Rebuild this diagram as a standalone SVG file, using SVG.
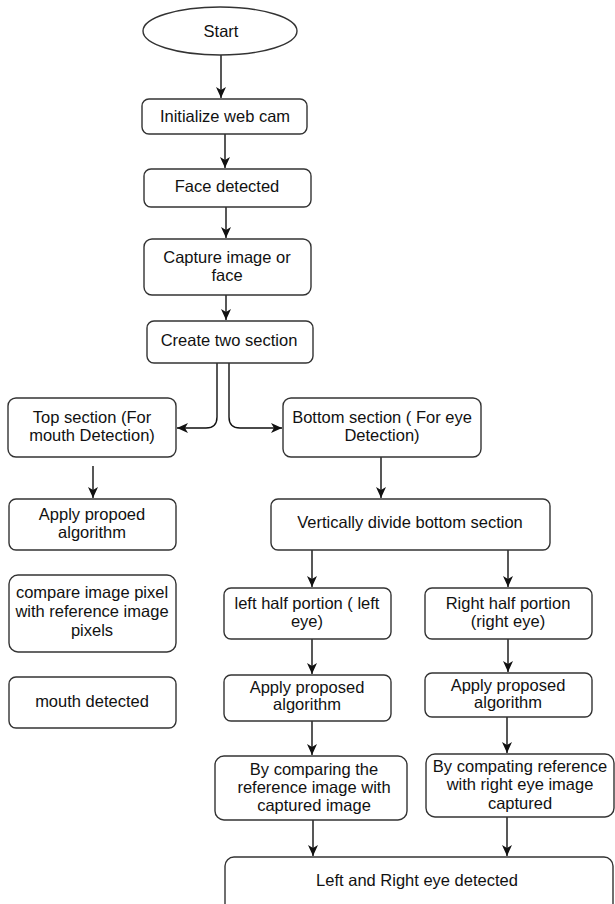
<svg xmlns="http://www.w3.org/2000/svg" width="615" height="904" viewBox="0 0 615 904">
<defs>
<style>
.b{fill:#fff;stroke:#333;stroke-width:1.4}
.t{font-family:"Liberation Sans",Arial,sans-serif;font-size:16.5px;fill:#111;text-anchor:middle}
.c{fill:none;stroke:#111;stroke-width:1.4}
</style>
<marker id="a" markerWidth="12" markerHeight="12" viewBox="0 0 12 12" refX="11" refY="6" orient="auto" markerUnits="userSpaceOnUse">
<path d="M0 1 L11 6 L0 11 L3 6 Z" fill="#111"/>
</marker>
</defs>
<rect width="615" height="904" fill="#fff"/>
<g id="connectors">
<path class="c" d="M221 55 V98" marker-end="url(#a)"/>
<path class="c" d="M225 134 V168" marker-end="url(#a)"/>
<path class="c" d="M226 207 V238" marker-end="url(#a)"/>
<path class="c" d="M226 295 V320" marker-end="url(#a)"/>
<path class="c" d="M217 363 V417 Q217 428 206 428 H177" marker-end="url(#a)"/>
<path class="c" d="M229 363 V417 Q229 428 240 428 H282" marker-end="url(#a)"/>
<path class="c" d="M93 466 V498" marker-end="url(#a)"/>
<path class="c" d="M381 457 V498" marker-end="url(#a)"/>
<path class="c" d="M312 550 V587" marker-end="url(#a)"/>
<path class="c" d="M508 550 V587" marker-end="url(#a)"/>
<path class="c" d="M312 639 V674" marker-end="url(#a)"/>
<path class="c" d="M508 639 V672" marker-end="url(#a)"/>
<path class="c" d="M312 721 V755" marker-end="url(#a)"/>
<path class="c" d="M507 717 V753" marker-end="url(#a)"/>
<path class="c" d="M313 820 V856" marker-end="url(#a)"/>
<path class="c" d="M507 817 V856" marker-end="url(#a)"/>
</g>
<g id="start"><ellipse class="b" cx="220" cy="31" rx="77" ry="24"/><text class="t" x="221" y="37">Start</text></g>
<g id="init"><rect class="b" x="142" y="99" width="165" height="35" rx="7"/><text class="t" x="225" y="122">Initialize web cam</text></g>
<g id="face"><rect class="b" x="144" y="169" width="167" height="38" rx="7"/><text class="t" x="227" y="192">Face detected</text></g>
<g id="capture"><rect class="b" x="144" y="239" width="167" height="56" rx="8"/><text class="t" x="227" y="263">Capture image or</text><text class="t" x="227" y="281">face</text></g>
<g id="create"><rect class="b" x="147" y="321" width="166" height="42" rx="7"/><text class="t" x="229" y="346">Create two section</text></g>
<g id="top"><rect class="b" x="8" y="398" width="168" height="59" rx="8"/><text class="t" x="92" y="423">Top section (For</text><text class="t" x="92" y="441">mouth Detection)</text></g>
<g id="bottom"><rect class="b" x="283" y="398" width="198" height="59" rx="8"/><text class="t" x="382" y="423">Bottom section ( For eye</text><text class="t" x="382" y="441">Detection)</text></g>
<g id="applyTop"><rect class="b" x="9" y="499" width="167" height="51" rx="7"/><text class="t" x="92" y="520">Apply propoed</text><text class="t" x="92" y="538">algorithm</text></g>
<g id="divide"><rect class="b" x="271" y="499" width="279" height="51" rx="7"/><text class="t" x="410" y="528">Vertically divide bottom section</text></g>
<g id="compare"><rect class="b" x="9" y="575" width="167" height="77" rx="9"/><text class="t" x="92" y="598">compare image pixel</text><text class="t" x="92" y="617">with reference image</text><text class="t" x="92" y="636">pixels</text></g>
<g id="mouth"><rect class="b" x="9" y="677" width="167" height="51" rx="7"/><text class="t" x="92" y="707">mouth detected</text></g>
<g id="leftHalf"><rect class="b" x="224" y="588" width="167" height="51" rx="7"/><text class="t" x="307" y="609">left half portion ( left</text><text class="t" x="307" y="627">eye)</text></g>
<g id="rightHalf"><rect class="b" x="425" y="588" width="167" height="51" rx="7"/><text class="t" x="508" y="609">Right half portion</text><text class="t" x="508" y="627">(right eye)</text></g>
<g id="applyLeft"><rect class="b" x="224" y="675" width="167" height="46" rx="7"/><text class="t" x="307" y="693">Apply proposed</text><text class="t" x="307" y="710">algorithm</text></g>
<g id="applyRight"><rect class="b" x="425" y="673" width="167" height="44" rx="7"/><text class="t" x="508" y="691">Apply proposed</text><text class="t" x="508" y="708">algorithm</text></g>
<g id="compLeft"><rect class="b" x="215" y="756" width="192" height="64" rx="9"/><text class="t" x="314" y="775">By comparing the</text><text class="t" x="314" y="793">reference image with</text><text class="t" x="314" y="811">captured image</text></g>
<g id="compRight"><rect class="b" x="426" y="754" width="188" height="63" rx="9"/><text class="t" x="520" y="772">By compating reference</text><text class="t" x="520" y="790">with right eye image</text><text class="t" x="520" y="809">captured</text></g>
<g id="final"><rect class="b" x="225" y="857" width="388" height="60" rx="9"/><text class="t" x="417" y="886">Left and Right eye detected</text></g>
</svg>
